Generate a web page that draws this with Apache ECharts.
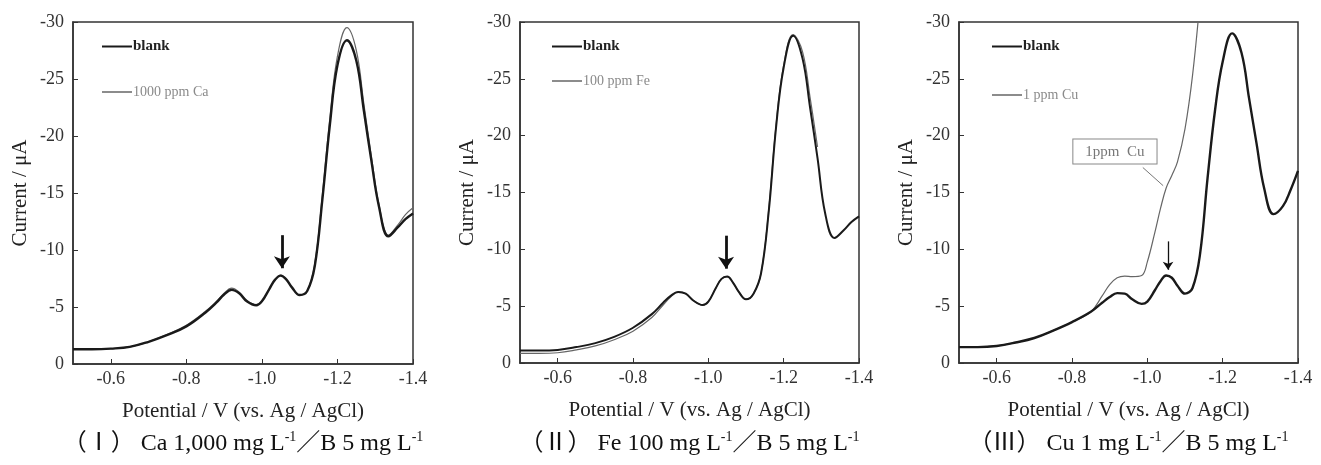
<!DOCTYPE html>
<html>
<head>
<meta charset="utf-8">
<title>Voltammograms</title>
<script src="https://cdn.jsdelivr.net/npm/echarts@6/dist/echarts.min.js"></script>
<style>
  html, body { margin: 0; padding: 0; background: #fff; }
  #chart { width: 1321px; height: 465px; }
</style>
</head>
<body>
<div id="chart"></div>
<script>
// potential grid (V vs. Ag/AgCl), shared by every curve
const potential = [-0.50, -0.55, -0.60, -0.65, -0.70, -0.75, -0.80, -0.85, -0.88, -0.90,
  -0.92, -0.94, -0.96, -0.985, -1.00, -1.02, -1.035, -1.05, -1.065, -1.08,
  -1.10, -1.12, -1.14, -1.16, -1.18, -1.20, -1.225, -1.25, -1.27, -1.29,
  -1.31, -1.335, -1.36, -1.38, -1.40];

// (I) Ca
const blankCa = [-1.3, -1.3, -1.35, -1.5, -1.95, -2.55, -3.3, -4.5, -5.4, -6.1,
  -6.5, -6.2, -5.5, -5.15, -5.5, -6.6, -7.4, -7.75, -7.4, -6.7,
  -6.05, -6.4, -8.6, -14.4, -21.0, -26.2, -28.4, -26.6, -22.2, -17.8,
  -13.8, -11.2, -12.0, -12.7, -13.2];
const sampleCa = [-1.3, -1.3, -1.35, -1.5, -1.95, -2.6, -3.4, -4.6, -5.5, -6.2,
  -6.65, -6.3, -5.6, -5.2, -5.5, -6.6, -7.4, -7.8, -7.4, -6.7,
  -6.05, -6.4, -8.8, -14.8, -21.6, -27.0, -29.5, -27.5, -22.8, -18.2,
  -14.0, -11.3, -12.2, -13.1, -13.7];

// (II) Fe
const blankFe = [-1.1, -1.1, -1.15, -1.4, -1.75, -2.3, -3.1, -4.3, -5.3, -5.9,
  -6.25, -6.1, -5.5, -5.1, -5.4, -6.6, -7.4, -7.6, -7.1, -6.3,
  -5.6, -6.1, -7.9, -13.2, -20.8, -26.0, -28.8, -26.8, -22.5, -18.0,
  -13.2, -11.0, -11.7, -12.4, -12.9];
const sampleFe = [-0.85, -0.85, -0.9, -1.15, -1.5, -2.05, -2.8, -4.0, -5.1, -5.8,
  -6.25, -6.1, -5.5, -5.1, -5.4, -6.6, -7.4, -7.6, -7.1, -6.3,
  -5.6, -6.1, -7.9, -13.4, -21.0, -26.2, -28.9, -27.4, -23.4, -19.0,
  null, null, null, null, null];

// (III) Cu
const blankCu = [-1.4, -1.4, -1.5, -1.8, -2.2, -2.85, -3.6, -4.5, -5.3, -5.8,
  -6.15, -6.1, -5.6, -5.2, -5.4, -6.4, -7.2, -7.7, -7.5, -6.8,
  -6.1, -6.6, -9.6, -16.3, -22.3, -26.5, -29.0, -27.3, -23.3, -19.3,
  -15.4, -13.1, -13.8, -15.2, -16.9];
const sampleCu = [-1.4, -1.4, -1.5, -1.8, -2.2, -2.85, -3.6, -4.5, -5.9, -6.9,
  -7.5, -7.65, -7.6, -7.7, -8.9, -11.5, -13.6, -15.4, -16.5, -17.7,
  -20.6, -25.3, -32.0, null, null, null, null, null, null, null,
  null, null, null, null, null];

const xTicks = { min: -1.4, max: -0.5, interval: 0.2 };
const yTicks = { min: -30, max: 0, interval: 5 };

const captions = [
  '（Ⅰ） Ca 1,000 mg L{sup|-1}／B 5 mg L{sup|-1}',
  '（Ⅱ） Fe 100 mg L{sup|-1}／B 5 mg L{sup|-1}',
  '（Ⅲ） Cu 1 mg L{sup|-1}／B 5 mg L{sup|-1}'
];
const sampleNames = ['1000 ppm Ca', '100 ppm Fe', '1 ppm Cu'];
const peakArrow = [[-1.053, -11.3, -8.4], [-1.047, -11.2, -8.3], [-1.055, -10.7, -8.2]];

const serif = '"Liberation Serif", "Times New Roman", "Noto Sans CJK JP", serif';

function pairs(values) {
  const out = [];
  values.forEach((v, i) => { if (v !== null) out.push([potential[i], v]); });
  return out;
}

const grids = [
  { left: 73, top: 22, width: 340, height: 342 },
  { left: 520, top: 22, width: 339, height: 341 },
  { left: 959, top: 22, width: 339, height: 341 }
];

const chart = echarts.init(document.getElementById('chart'), null, { renderer: 'canvas' });

const xAxis = grids.map((g, i) => ({
  type: 'value',
  gridIndex: i,
  min: xTicks.min,
  max: xTicks.max,
  interval: xTicks.interval,
  inverse: true,
  name: 'Potential / V (vs. Ag / AgCl)',
  nameLocation: 'middle',
  nameGap: 37,
  nameTextStyle: { fontFamily: serif, fontSize: 21, color: '#222' },
  axisLine: { lineStyle: { color: '#333', width: 1.5 } },
  axisTick: { inside: true, length: 5, lineStyle: { color: '#333' } },
  axisLabel: {
    fontFamily: serif, fontSize: 18, color: '#333', margin: 6,
    showMaxLabel: false,
    formatter: v => v.toFixed(1)
  },
  splitLine: { show: false }
}));

const yAxis = grids.map((g, i) => ({
  type: 'value',
  gridIndex: i,
  min: yTicks.min,
  max: yTicks.max,
  interval: yTicks.interval,
  inverse: true,
  name: 'Current / μA',
  nameLocation: 'middle',
  nameGap: 42,
  nameTextStyle: { fontFamily: serif, fontSize: 21, color: '#222' },
  axisLine: { lineStyle: { color: '#333', width: 1.5 } },
  axisTick: { inside: true, length: 5, lineStyle: { color: '#333' } },
  axisLabel: {
    fontFamily: serif, fontSize: 18, color: '#333', margin: 9,
    formatter: v => (Math.abs(v) < 1e-9 ? '0' : String(v))
  },
  splitLine: { show: false }
}));

const blanks = [blankCa, blankFe, blankCu];
const samples = [sampleCa, sampleFe, sampleCu];

const series = [];
blanks.forEach((b, i) => {
  series.push({
    name: 'blank',
    type: 'line',
    xAxisIndex: i,
    yAxisIndex: i,
    data: pairs(b),
    smooth: 0.4,
    showSymbol: false,
    symbol: 'none',
    itemStyle: { color: '#1a1a1a' },
    lineStyle: { color: '#1a1a1a', width: i === 1 ? 2 : 2.4 },
    z: 3,
    markLine: {
      silent: true,
      symbol: ['none', 'arrow'],
      symbolSize: i === 2 ? 8 : 12,
      label: { show: false },
      lineStyle: { color: '#111', type: 'solid', width: i === 2 ? 1.3 : 2.8 },
      data: [[
        { coord: [peakArrow[i][0], peakArrow[i][1]] },
        { coord: [peakArrow[i][0], peakArrow[i][2]] }
      ]]
    }
  });
  const s = {
    name: sampleNames[i],
    type: 'line',
    xAxisIndex: i,
    yAxisIndex: i,
    data: pairs(samples[i]),
    smooth: 0.4,
    showSymbol: false,
    symbol: 'none',
    itemStyle: { color: '#666' },
    lineStyle: { color: '#666', width: 1.2 },
    z: 2
  };
  if (i === 2) {
    // boxed note with leader line
    s.markLine = {
      silent: true,
      symbol: 'none',
      label: { show: false },
      lineStyle: { color: '#777', type: 'solid', width: 1 },
      data: [[{ coord: [-0.988, -17.2] }, { coord: [-1.042, -15.6] }]]
    };
    s.markPoint = {
      silent: true,
      symbol: 'rect',
      symbolSize: 1,
      itemStyle: { color: 'rgba(0,0,0,0)' },
      label: {
        show: true,
        position: 'inside',
        formatter: '1ppm  Cu',
        fontFamily: serif,
        fontSize: 15,
        color: '#777',
        borderColor: '#888',
        borderWidth: 1,
        backgroundColor: '#fff',
        padding: [5, 12, 4, 12]
      },
      data: [{ coord: [-0.914, -18.6] }]
    };
  }
  series.push(s);
});

const legendTops = [[37, 83], [37, 72], [37, 86]];
const legendLefts = [97, 547, 987];
const legend = [];
grids.forEach((g, i) => {
  legend.push({
    data: ['blank'],
    left: legendLefts[i],
    top: legendTops[i][0] - 3,
    icon: 'rect',
    itemWidth: 30,
    itemHeight: 2,
    selectedMode: false,
    textStyle: { fontFamily: serif, fontSize: 15, fontWeight: 'bold', color: '#222', padding: [0, 0, 0, -4] }
  });
  legend.push({
    data: [sampleNames[i]],
    left: legendLefts[i],
    top: legendTops[i][1] - 3,
    icon: 'rect',
    itemWidth: 30,
    itemHeight: 1.5,
    selectedMode: false,
    textStyle: { fontFamily: serif, fontSize: 14, color: '#8a8a8a', padding: [0, 0, 0, -4] }
  });
});

const title = captions.map((c, i) => ({
  text: c,
  left: grids[i].left + grids[i].width / 2 - 5,
  top: 425,
  textAlign: 'center',
  textStyle: {
    fontFamily: serif,
    fontSize: 24,
    fontWeight: 'normal',
    color: '#111',
    rich: {
      sup: { fontFamily: serif, fontSize: 14, color: '#111', padding: [0, 0, 13, 0] }
    }
  }
}));

chart.setOption({
  backgroundColor: '#fff',
  animation: false,
  title: title,
  legend: legend,
  grid: grids.map(g => Object.assign({ show: true, borderColor: '#333', borderWidth: 1.5, backgroundColor: 'transparent' }, g)),
  xAxis: xAxis,
  yAxis: yAxis,
  series: series
});
</script>
</body>
</html>
